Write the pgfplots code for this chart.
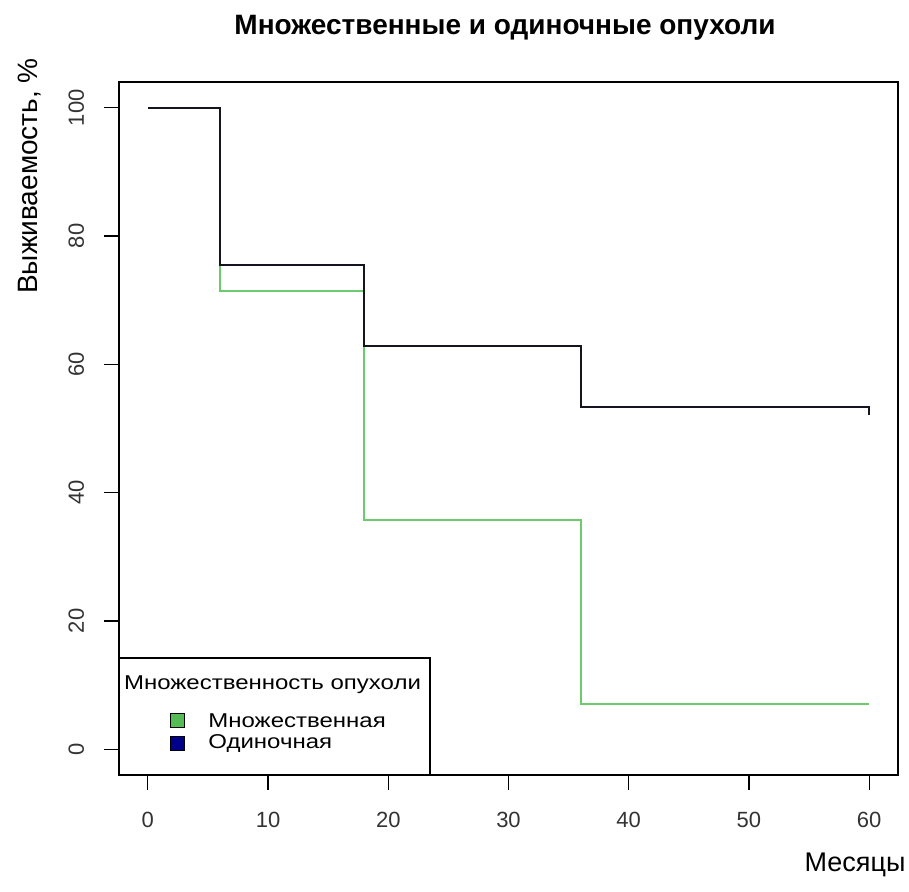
\documentclass[border=0pt]{standalone}
\usepackage{fontspec}
\setmainfont{Liberation Sans}
\newfontfamily\legfont{Liberation Sans}[FakeStretch=1.2]
\usepackage{pgfplots}
\pgfplotsset{compat=1.18}
\definecolor{kmgreen}{HTML}{6CCB6C}
\definecolor{kmdark}{HTML}{15151F}
\definecolor{leggreen}{HTML}{55BB55}
\definecolor{legblue}{HTML}{00008B}
\begin{document}
\begin{tikzpicture}[x=1pt,y=1pt]
\useasboundingbox (-59.5,-58.5) rectangle (395,387.5);
\begin{axis}[
  at={(0,0)}, anchor=south west,
  scale only axis, width=389.5pt, height=346.5pt,
  xmin=-2.4, xmax=62.4, ymin=-4, ymax=104,
  xtick={0,10,20,30,40,50,60}, ytick={0,20,40,60,80,100},
  xtick pos=left, ytick pos=left,
  tick align=outside, major tick length=7.5pt,
  tick style={black, line width=0.6pt},
  axis line style={line width=0.8pt},
  /pgf/number format/assume math mode=true,
  ticklabel style={font=\fontsize{11}{13}\selectfont, text=black!80},
  yticklabel style={rotate=90, anchor=south},
  xticklabel shift=7.3pt, yticklabel shift=6.4pt,
]
\addplot[const plot, color=kmgreen, line width=1pt] coordinates {
  (0,100) (6,71.4) (18,35.7) (36,7.1) (60,7.1)
};
\addplot[const plot, color=kmdark, line width=1pt] coordinates {
  (0,100) (6,75.5) (18,62.8) (36,53.4) (60,53.4) (60,52.1)
};
\end{axis}
% legend
\draw[line width=0.8pt, fill=white] (0,0) rectangle (155.5,58.5);
\node[font=\legfont\fontsize{10}{12}\selectfont] at (76.75,45) {Множественность опухоли};
\draw[fill=leggreen, draw=black, line width=0.5pt] (25.5,23.5) rectangle (32.5,30.5);
\node[anchor=west, inner sep=0pt, font=\legfont\fontsize{10}{12}\selectfont] at (44.5,27) {Множественная};
\draw[fill=legblue, draw=black, line width=0.5pt] (25.5,12) rectangle (32.5,19);
\node[anchor=west, inner sep=0pt, font=\legfont\fontsize{10}{12}\selectfont] at (44.5,15.5) {Одиночная};
% titles
\node[font=\bfseries\fontsize{14}{16}\selectfont] at (193,373.5) {Множественные и одиночные опухоли};
\node[rotate=90, font=\fontsize{14}{16}\selectfont] at (-44.5,299.5) {Выживаемость, \%};
\node[font=\fontsize{13.5}{16}\selectfont] at (368,-45) {Месяцы};
\end{tikzpicture}
\end{document}
